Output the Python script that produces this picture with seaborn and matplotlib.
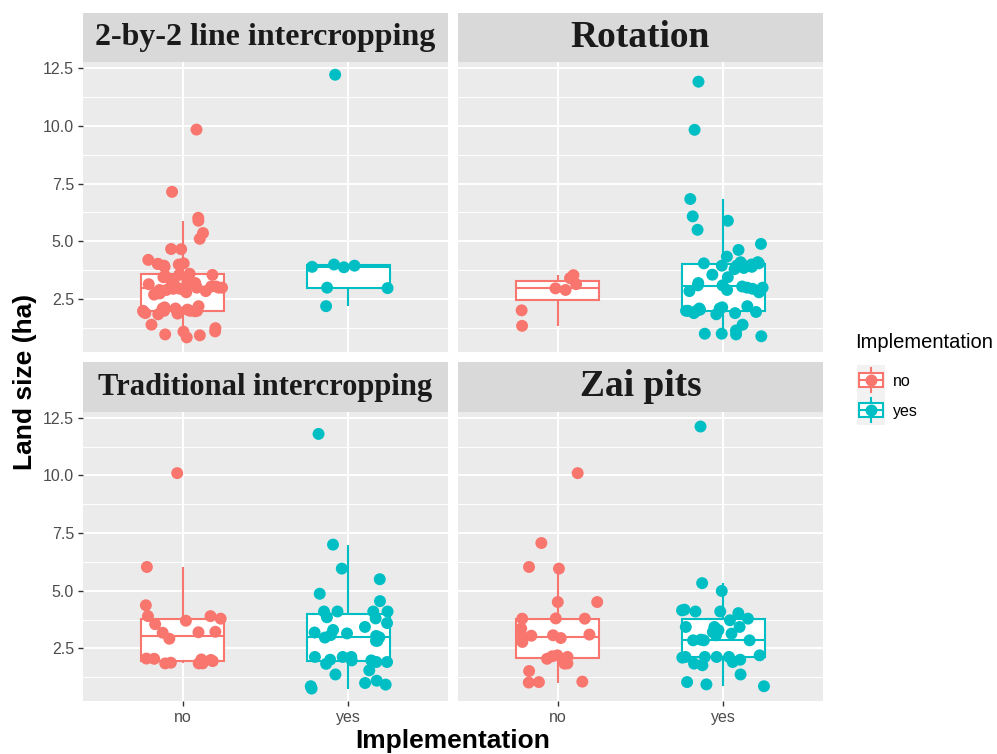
import numpy as np
import pandas as pd
import matplotlib
matplotlib.use("Agg")
import matplotlib.pyplot as plt
import seaborn as sns
from matplotlib.patches import Rectangle

# ---------------- data ----------------
facets = ["2-by-2 line intercropping", "Rotation", "Traditional intercropping", "Zai pits"]
groups = ["no", "yes"]
colors = ["#F8766D", "#00BFC4"]

two_by_two_no = [0.85, 0.94, 0.98, 1.1, 1.11, 1.25, 1.4,
                 1.85, 1.9, 1.9, 1.95, 1.95, 1.98, 2.0, 2.0, 2.0, 2.0, 2.05, 2.1, 2.1, 2.15, 2.2, 1.88,
                 2.7, 2.8, 2.85, 2.9, 2.9, 2.95, 3.0, 3.0, 3.0, 3.05, 3.05, 3.1, 3.15, 3.2, 3.25, 3.3, 2.75, 3.1, 2.95,
                 3.45, 3.5, 3.55, 3.55, 3.6,
                 3.9, 3.95, 4.0, 4.02, 4.03, 4.05, 4.2,
                 4.66, 4.67, 5.11, 5.36, 5.89, 6.02, 7.14, 9.83]
two_by_two_yes = [12.2, 3.95, 4.0, 3.88, 3.9, 3.0, 2.98, 2.2]

rotation_no = [3.54, 3.41, 3.15, 2.97, 2.9, 2.02, 1.35]
rotation_yes = [11.9, 9.82, 6.83, 6.08, 5.89, 5.5, 4.89, 4.63, 4.34,
                4.1, 4.05, 4.05, 4.0, 4.0, 3.95, 3.9, 3.85, 3.95, 4.1, 3.8,
                3.56, 3.45,
                3.2, 3.1, 3.05, 3.0, 3.0, 2.95, 2.9, 2.85, 3.1, 2.8,
                2.2, 2.15, 2.1, 2.05, 2.0, 2.0, 1.95, 1.9, 1.9, 1.85, 2.0, 2.1,
                1.4, 1.15, 1.01, 1.01, 0.98, 0.9]

traditional_no = [10.1, 6.03, 4.37, 3.9, 3.79, 3.7, 3.9, 3.55, 3.18, 3.2, 3.22, 2.92,
                  2.06, 1.95, 1.85, 1.85, 2.05, 1.85, 2.0, 1.9, 1.88, 2.02]
traditional_yes = [11.8, 7.0, 5.96, 5.5, 4.87, 4.55,
                   4.1, 4.1, 4.1, 4.1, 3.85, 3.8, 3.6,
                   3.43, 3.15, 3.08, 3.04, 2.98, 3.19, 2.97, 2.83, 2.83, 3.3,
                   2.01, 2.13, 1.98, 2.13, 1.91, 2.13, 1.98, 1.83, 1.91,
                   1.55, 1.37, 0.93, 1.0, 1.1, 0.86, 0.76]

zai_no = [10.1, 7.07, 5.96, 6.03, 4.51, 4.51, 3.79, 3.79, 3.8,
          3.36, 3.1, 3.07, 2.97, 3.0, 2.95, 2.78, 3.05,
          2.16, 2.2, 1.84, 2.13, 2.05, 1.85, 1.52, 1.04, 1.06, 1.02]
zai_yes = [12.12, 5.33, 4.99,
           4.15, 4.18, 4.1, 4.1, 4.03, 3.79, 3.72,
           3.43, 3.43, 3.43, 3.29, 3.21, 3.14, 2.85, 2.88, 2.85, 2.85, 3.07,
           2.2, 2.13, 1.84, 2.01, 2.13, 1.91, 2.13, 2.13, 2.1, 1.77,
           1.37, 1.04, 0.94, 0.86]

y_ticks = [2.5, 5.0, 7.5, 10.0, 12.5]
y_tick_labels = ["2.5", "5.0", "7.5", "10.0", "12.5"]
y_minor = [1.25, 3.75, 6.25, 8.75, 11.25]

facet_no = [two_by_two_no, rotation_no, traditional_no, zai_no]
facet_yes = [two_by_two_yes, rotation_yes, traditional_yes, zai_yes]

rows = []
for f, nv, yv in zip(facets, facet_no, facet_yes):
    for g, vals in zip(groups, [nv, yv]):
        for v in vals:
            rows.append((f, g, v))
df = pd.DataFrame(rows, columns=["facet", "Implementation", "land"])

# ---------------- style ----------------
plt.rcParams["font.family"] = ["Liberation Sans", "DejaVu Sans"]
W, H = 997, 754
fig = plt.figure(figsize=(W / 100, H / 100), dpi=100)

col_left = [83, 458]
panel_w = 365
panel_rows = [(62, 352), (412, 701)]
strip_rows = [(13, 62), (362, 412)]
strip_sizes = [23, 27, 22, 27]

np.random.seed(3)
for i, f in enumerate(facets):
    r, c = divmod(i, 2)
    top, bot = panel_rows[r]
    ax = fig.add_axes([col_left[c] / W, 1 - bot / H, panel_w / W, (bot - top) / H])
    ax.set_facecolor("#EBEBEB")
    sub = df[df["facet"] == f]
    for g, col in zip(groups, colors):
        sns.boxplot(data=sub[sub["Implementation"] == g], x="Implementation", y="land",
                    order=groups, color="white", linecolor=col, width=0.5,
                    showfliers=False, showcaps=False, whis=1.5, linewidth=1.5,
                    saturation=1, ax=ax)
    sns.stripplot(data=sub, x="Implementation", y="land", hue="Implementation",
                  order=groups, hue_order=groups, palette=colors, jitter=0.25,
                  size=8.6, linewidth=0, legend=False, zorder=3, ax=ax)
    ax.set_xlim(-0.6, 1.6)
    ax.set_ylim(0.22, 12.75)
    ax.set_yticks(y_ticks)
    ax.set_yticklabels(y_tick_labels)
    ax.set_yticks(y_minor, minor=True)
    ax.set_xticks([0, 1])
    ax.set_xticklabels(groups)
    ax.set_axisbelow(True)
    ax.grid(False)
    ax.yaxis.grid(True, which="major", color="white", lw=1.4)
    ax.yaxis.grid(True, which="minor", color="white", lw=0.7)
    ax.xaxis.grid(True, which="major", color="white", lw=1.4)
    for s in ax.spines.values():
        s.set_visible(False)
    ax.tick_params(which="minor", left=False, bottom=False)
    ax.tick_params(which="major", colors="#333333", length=3.5, width=1,
                   labelcolor="#4D4D4D", labelsize=11.5, pad=3,
                   left=(c == 0), labelleft=(c == 0),
                   bottom=(r == 1), labelbottom=(r == 1))
    ax.set_xlabel("")
    ax.set_ylabel("")

    st, sb = strip_rows[r]
    sax = fig.add_axes([col_left[c] / W, 1 - sb / H, panel_w / W, (sb - st) / H])
    sax.set_facecolor("#D9D9D9")
    sax.set_xticks([])
    sax.set_yticks([])
    for s in sax.spines.values():
        s.set_visible(False)
    sax.text(0.5, 0.5, f, transform=sax.transAxes, ha="center", va="center",
             fontsize=strip_sizes[i], fontweight="bold", color="#1A1A1A",
             family=["Liberation Serif", "DejaVu Serif"])

fig.text(25 / W, 1 - 382 / H, "Land size (ha)", rotation=90, ha="center", va="center",
         fontsize=19, fontweight="bold", color="black")
fig.text(453 / W, 1 - 748 / H, "Implementation", ha="center", va="baseline",
         fontsize=19, fontweight="bold", color="black")

# ---------------- legend ----------------
fig.text(855 / W, 1 - 343 / H, "Implementation", ha="left", va="center",
         fontsize=14.5, color="black")
key_tops = [365, 395]
for g, col, kt in zip(groups, colors, key_tops):
    kax = fig.add_axes([857 / W, 1 - (kt + 30) / H, 28 / W, 30 / H])
    kax.set_xlim(0, 1)
    kax.set_ylim(0, 1)
    kax.set_facecolor("#F2F2F2")
    kax.set_xticks([])
    kax.set_yticks([])
    for s in kax.spines.values():
        s.set_visible(False)
    kax.add_patch(Rectangle((0.08, 0.27), 0.84, 0.46, facecolor="white", edgecolor=col, lw=1.5))
    kax.plot([0.08, 0.92], [0.5, 0.5], color=col, lw=1.5)
    kax.plot([0.5, 0.5], [0.1, 0.27], color=col, lw=1.5)
    kax.plot([0.5, 0.5], [0.73, 0.9], color=col, lw=1.5)
    kax.scatter([0.5], [0.5], s=8.6 ** 2, color=col, zorder=3, linewidths=0)
    fig.text(893 / W, 1 - (kt + 16) / H, g, ha="left", va="center", fontsize=11.5, color="black")

fig.savefig("out.png", dpi=100)
